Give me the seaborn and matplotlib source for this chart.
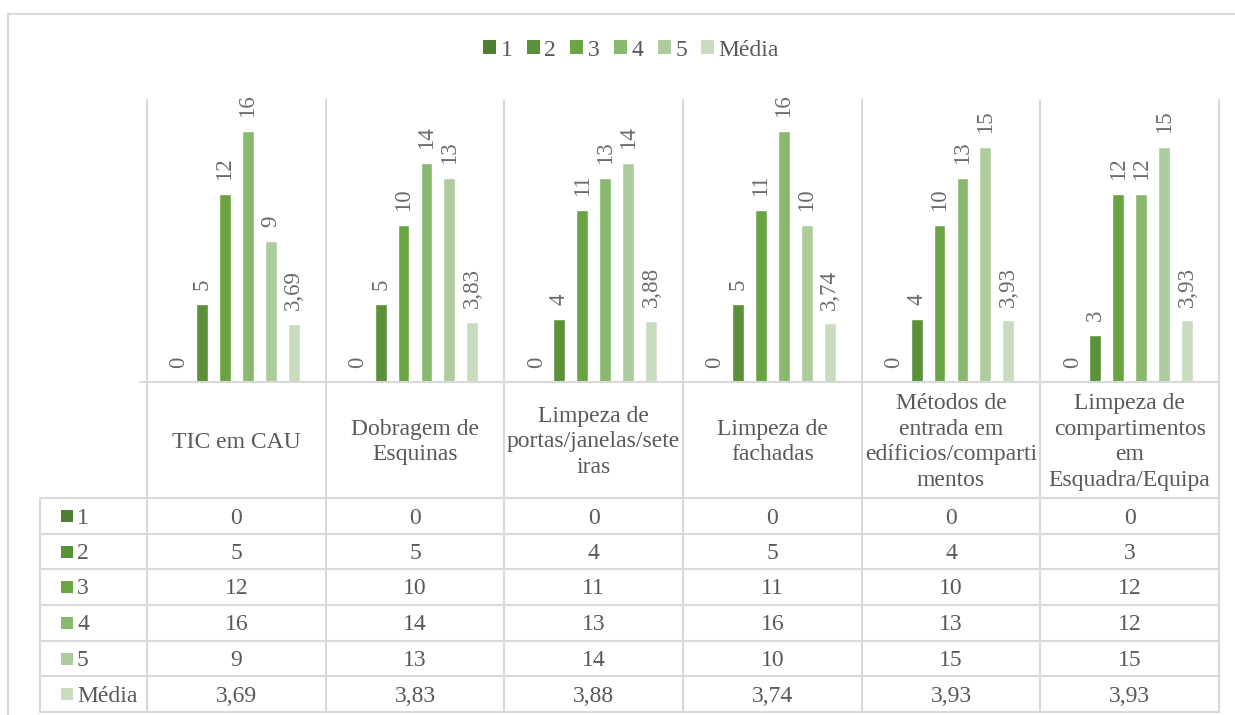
import matplotlib
matplotlib.use("Agg")
import matplotlib.pyplot as plt
import matplotlib.transforms as mtransforms
from matplotlib.lines import Line2D
from matplotlib.patches import Patch, Rectangle
import pandas as pd
import seaborn as sns

categories = ["TIC em CAU", "Dobragem de\nEsquinas",
              "Limpeza de\nportas/janelas/sete\niras", "Limpeza de\nfachadas",
              "Métodos de\nentrada em\nedíficios/comparti\nmentos",
              "Limpeza de\ncompartimentos\nem\nEsquadra/Equipa"]
series = ["1", "2", "3", "4", "5", "Média"]
v1 = [0, 0, 0, 0, 0, 0]
v2 = [5, 5, 4, 5, 4, 3]
v3 = [12, 10, 11, 11, 10, 12]
v4 = [16, 14, 13, 16, 13, 12]
v5 = [9, 13, 14, 10, 15, 15]
media = [3.69, 3.83, 3.88, 3.74, 3.93, 3.93]
colors = ["#4f7f31", "#5b9138", "#6aa443", "#89b86f", "#adcc9c", "#cadcbf"]

values = [v1, v2, v3, v4, v5, media]
rows = []
for s, vals in zip(series, values):
    for c, v in zip(categories, vals):
        rows.append({"Categoria": c, "Série": s, "Valor": v})
df = pd.DataFrame(rows)


def fmt(v):
    if float(v).is_integer():
        return str(int(v))
    return f"{v:.2f}".replace(".", ",")


sns.set_theme(style="white")
plt.rcParams["font.family"] = ["Liberation Serif", "DejaVu Serif"]
txt = "#595959"
grid = "#d9d9d9"

W, H = 1235, 715
fig = plt.figure(figsize=(W / 100, H / 100), dpi=100)
fig.patch.set_facecolor("white")


def px(x):
    return x / W


def py(y):
    return 1 - y / H


ax = fig.add_axes([px(147), py(382), px(1219) - px(147), py(100) - py(382)])
sns.barplot(data=df, x="Categoria", y="Valor", hue="Série", palette=colors,
            width=0.77, gap=0.48, saturation=1, errorbar=None, legend=False, ax=ax)
ax.set_ylim(0, 18)
ax.set_xlim(-0.5, 5.5)
ax.set_xticks([])
ax.set_yticks([])
ax.set_xlabel("")
ax.set_ylabel("")
for sp in ax.spines.values():
    sp.set_visible(False)

for cont, vals in zip(ax.containers, values):
    ax.bar_label(cont, labels=[fmt(v) for v in vals], rotation=90, padding=10,
                 color="#6b6b6b", fontsize=16.5)

# legend
handles = [Patch(facecolor=c, edgecolor="none", label=s) for s, c in zip(series, colors)]
fig.legend(handles=handles, loc="center", bbox_to_anchor=(px(631), py(50)), ncol=6,
           frameon=False, fontsize=17, handlelength=0.55, handleheight=0.55,
           handletextpad=0.2, columnspacing=0.6, labelcolor=txt)

# chart frame
fig.add_artist(Line2D([px(7.5), px(7.5)], [py(13.5), py(715)], color=grid, lw=1.5))
fig.add_artist(Line2D([px(7.5), px(1235)], [py(13.5), py(13.5)], color=grid, lw=1.5))

# data table
bt = mtransforms.blended_transform_factory(ax.transData, fig.transFigure)
row_lines = [498, 534, 569, 605, 641, 676, 712]
fig.add_artist(Line2D([px(140), px(1219)], [py(382), py(382)], color=grid, lw=1.5))
for y in row_lines:
    fig.add_artist(Line2D([px(40), px(1219)], [py(y), py(y)], color=grid, lw=1.5))
for i in range(len(categories) + 1):
    ax.add_line(Line2D([i - 0.5, i - 0.5], [py(100), py(712)], color=grid, lw=1.5,
                       transform=bt, clip_on=False))
fig.add_artist(Line2D([px(40), px(40)], [py(498), py(712)], color=grid, lw=1.5))

for i, c in enumerate(categories):
    ax.text(i, py(442), c, transform=bt, ha="center", va="center", fontsize=17,
            color=txt, linespacing=1.3)

for r, (s, col, vals) in enumerate(zip(series, colors, values)):
    yc = (row_lines[r] + row_lines[r + 1]) / 2
    fig.add_artist(Rectangle((px(61), py(yc + 6)), px(12), 12 / H, facecolor=col,
                             edgecolor="none", transform=fig.transFigure))
    fig.text(px(77), py(yc + 2), s, ha="left", va="center", fontsize=17, color=txt)
    for i, v in enumerate(vals):
        ax.text(i, py(yc + 2), fmt(v), transform=bt, ha="center", va="center",
                fontsize=17, color=txt)

fig.savefig("out.png", dpi=100, facecolor="white")
